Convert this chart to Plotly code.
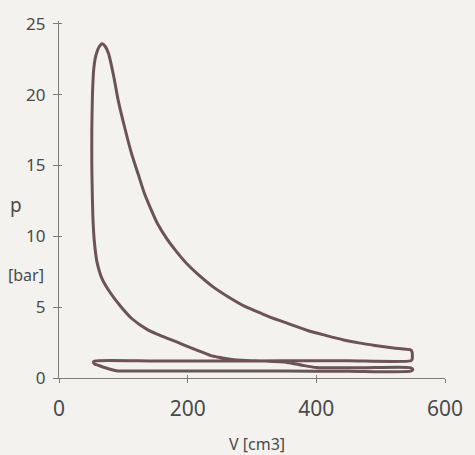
import plotly.graph_objects as go

# ---- data (V in cm3, p in bar) ----
tip_v = [55, 53.5, 55, 62, 72, 84, 92]
tip_p = [1.2, 1.12, 1.0, 0.88, 0.72, 0.57, 0.5]

intake_v = [150, 250, 350, 450, 547]
intake_p = [0.5, 0.5, 0.49, 0.48, 0.48]

comp_v = [550, 547, 470, 400, 378, 355, 320, 290, 269, 250, 235, 215, 188, 163, 138,
          113, 95, 80, 67, 59, 55, 53, 52, 51, 51, 52, 54, 57, 62, 67]
comp_p = [0.6, 0.72, 0.72, 0.74, 0.9, 1.1, 1.2, 1.24, 1.3, 1.45, 1.6, 1.95, 2.45, 2.9, 3.4,
          4.2, 5.1, 6.0, 7.0, 8.2, 9.6, 11.0, 12.5, 15.0, 17.5, 20.0, 21.8, 22.7, 23.35, 23.6]

exp_v = [72, 77, 85, 92, 102, 113, 123, 133, 143, 153, 168, 183, 198, 214, 239, 264,
         289, 315, 340, 365, 390, 415, 441, 466, 491, 520, 547]
exp_p = [23.4, 22.9, 21.3, 19.6, 17.7, 15.8, 14.4, 13.0, 11.9, 10.9, 9.8, 8.9, 8.1, 7.4,
         6.45, 5.7, 5.05, 4.55, 4.1, 3.7, 3.3, 3.0, 2.7, 2.48, 2.3, 2.12, 1.98]

blow_v = [549, 549, 547]
blow_p = [1.8, 1.35, 1.22]

exhaust_v = [450, 350, 250, 150, 55]
exhaust_p = [1.21, 1.21, 1.2, 1.2, 1.2]

x_ticks = [0, 200, 400, 600]
y_ticks = [0, 5, 10, 15, 20, 25]

V = tip_v + intake_v + comp_v + exp_v + blow_v + exhaust_v
P = tip_p + intake_p + comp_p + exp_p + blow_p + exhaust_p

INK = "#6c5259"
AX = "#7c7c7c"
TXT = "#4a4a4a"
BG = "#f4f2ee"
FONT = "Noto Sans"

fig = go.Figure()
fig.add_trace(go.Scatter(x=V, y=P, mode="lines",
                         line=dict(color=INK, width=3, shape="spline", smoothing=0.6),
                         hoverinfo="skip", showlegend=False))

L, R, T, B = 59, 20, 20, 77
W, H = 475, 455
pw, ph = W - L - R, H - T - B
yr = [0, 25.2]

def px_x(px):
    return (px - L) / pw

def px_y(py):
    return (H - B - py) / ph

fig.update_layout(
    width=W, height=H,
    margin=dict(l=L, r=R, t=T, b=B, pad=0),
    paper_bgcolor=BG, plot_bgcolor=BG,
    xaxis=dict(range=[0, 600], tickvals=x_ticks, ticks="outside", ticklen=4,
               tickcolor=AX, tickwidth=1.2, showline=True, linecolor=AX,
               linewidth=1.2, showgrid=False, zeroline=False,
               tickfont=dict(family=FONT, size=21, color=TXT),
               ticklabelstandoff=8),
    yaxis=dict(range=yr, tickvals=y_ticks, ticks="outside", ticklen=5,
               tickcolor=AX, tickwidth=1.2, showline=True, linecolor=AX,
               linewidth=1.2, showgrid=False, zeroline=False,
               tickfont=dict(family=FONT, size=17, color=TXT),
               ticklabelstandoff=4),
    xaxis2=dict(range=[0, 600], tickvals=x_ticks, ticks="inside", ticklen=3,
                tickcolor=AX, tickwidth=1.2, showticklabels=False,
                showline=False, showgrid=False, zeroline=False,
                overlaying="x", anchor="y"),
    yaxis2=dict(range=yr, tickvals=y_ticks, ticks="inside", ticklen=3,
                tickcolor=AX, tickwidth=1.2, showticklabels=False,
                showline=False, showgrid=False, zeroline=False,
                overlaying="y", anchor="x", side="left"),
    annotations=[
        dict(text="p", x=px_x(15), y=px_y(205), xref="paper", yref="paper",
             showarrow=False, xanchor="center", yanchor="middle",
             font=dict(family=FONT, size=19, color=TXT)),
        dict(text="[bar]", x=px_x(25), y=px_y(275), xref="paper", yref="paper",
             showarrow=False, xanchor="center", yanchor="middle",
             font=dict(family=FONT, size=16, color=TXT)),
        dict(text="V [cm3]", x=px_x(262), y=px_y(444), xref="paper", yref="paper",
             showarrow=False, xanchor="center", yanchor="middle",
             font=dict(family=FONT, size=16, color=TXT)),
    ],
)
# invisible trace to activate overlay axes
fig.add_trace(go.Scatter(x=[None], y=[None], xaxis="x2", yaxis="y2",
                         showlegend=False, hoverinfo="skip"))

fig.write_html("out.html")
